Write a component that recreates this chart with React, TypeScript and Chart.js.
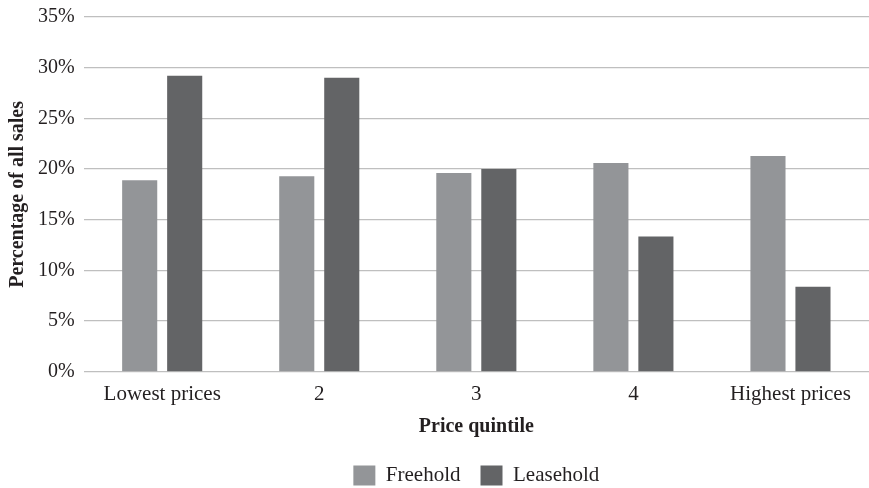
import React, { useEffect, useRef } from "react";
import { Chart, registerables } from "chart.js";

Chart.register(...registerables);

const categories = ["Lowest prices", "2", "3", "4", "Highest prices"];
const freehold = [18.9, 19.3, 19.6, 20.6, 21.3];
const leasehold = [29.2, 29.0, 20.0, 13.35, 8.4];
const yTicks = [0, 5, 10, 15, 20, 25, 30, 35];

const FONT = "'Liberation Serif', 'DejaVu Serif', serif";

export default function App() {
  const ref = useRef<HTMLCanvasElement | null>(null);

  useEffect(() => {
    document.body.style.margin = "0";
    const ctx = ref.current!;
    const chart = new Chart(ctx, {
      type: "bar",
      data: {
        labels: categories,
        datasets: [
          {
            label: "Freehold",
            data: freehold,
            backgroundColor: "#939598",
            categoryPercentage: 0.573,
            barPercentage: 0.78,
          },
          {
            label: "Leasehold",
            data: leasehold,
            backgroundColor: "#636466",
            categoryPercentage: 0.573,
            barPercentage: 0.78,
          },
        ],
      },
      options: {
        animation: false,
        responsive: false,
        maintainAspectRatio: false,
        layout: { padding: { top: 0, right: 0, left: 8, bottom: -8 } },
        plugins: {
          tooltip: { enabled: false },
          legend: {
            position: "bottom",
            fullSize: false,
            labels: {
              color: "#231f20",
              font: { family: FONT, size: 21 },
              boxWidth: 22,
              boxHeight: 20,
              padding: 20,
            },
          },
        },
        scales: {
          x: {
            grid: { display: false },
            border: { display: false },
            ticks: {
              color: "#231f20",
              font: { family: FONT, size: 21 },
              padding: 2,
              maxRotation: 0,
            },
            title: {
              display: true,
              text: "Price quintile",
              color: "#231f20",
              font: { family: FONT, size: 20, weight: "bold" },
              padding: { top: 6, bottom: 6 },
            },
          },
          y: {
            min: 0,
            max: 35,
            afterBuildTicks: (axis: any) => {
              axis.ticks = yTicks.map((v) => ({ value: v }));
            },
            grid: { color: "#bfbfbf", lineWidth: 1.3, drawTicks: false },
            border: { display: false },
            ticks: {
              color: "#231f20",
              font: { family: FONT, size: 20, lineHeight: 0.8 },
              padding: 9,
              callback: (v: any) => v + "%",
            },
            title: {
              display: true,
              text: "Percentage of all sales",
              color: "#231f20",
              font: { family: FONT, size: 20, weight: "bold", lineHeight: 1 },
              padding: { top: 0, bottom: 1 },
            },
          },
        },
      },
    });
    return () => chart.destroy();
  }, []);

  return (
    <div style={{ position: "absolute", left: 0, top: 0, width: 869, height: 488, background: "#fff" }}>
      <canvas ref={ref} width={869} height={488} style={{ width: 869, height: 488 }} />
    </div>
  );
}
